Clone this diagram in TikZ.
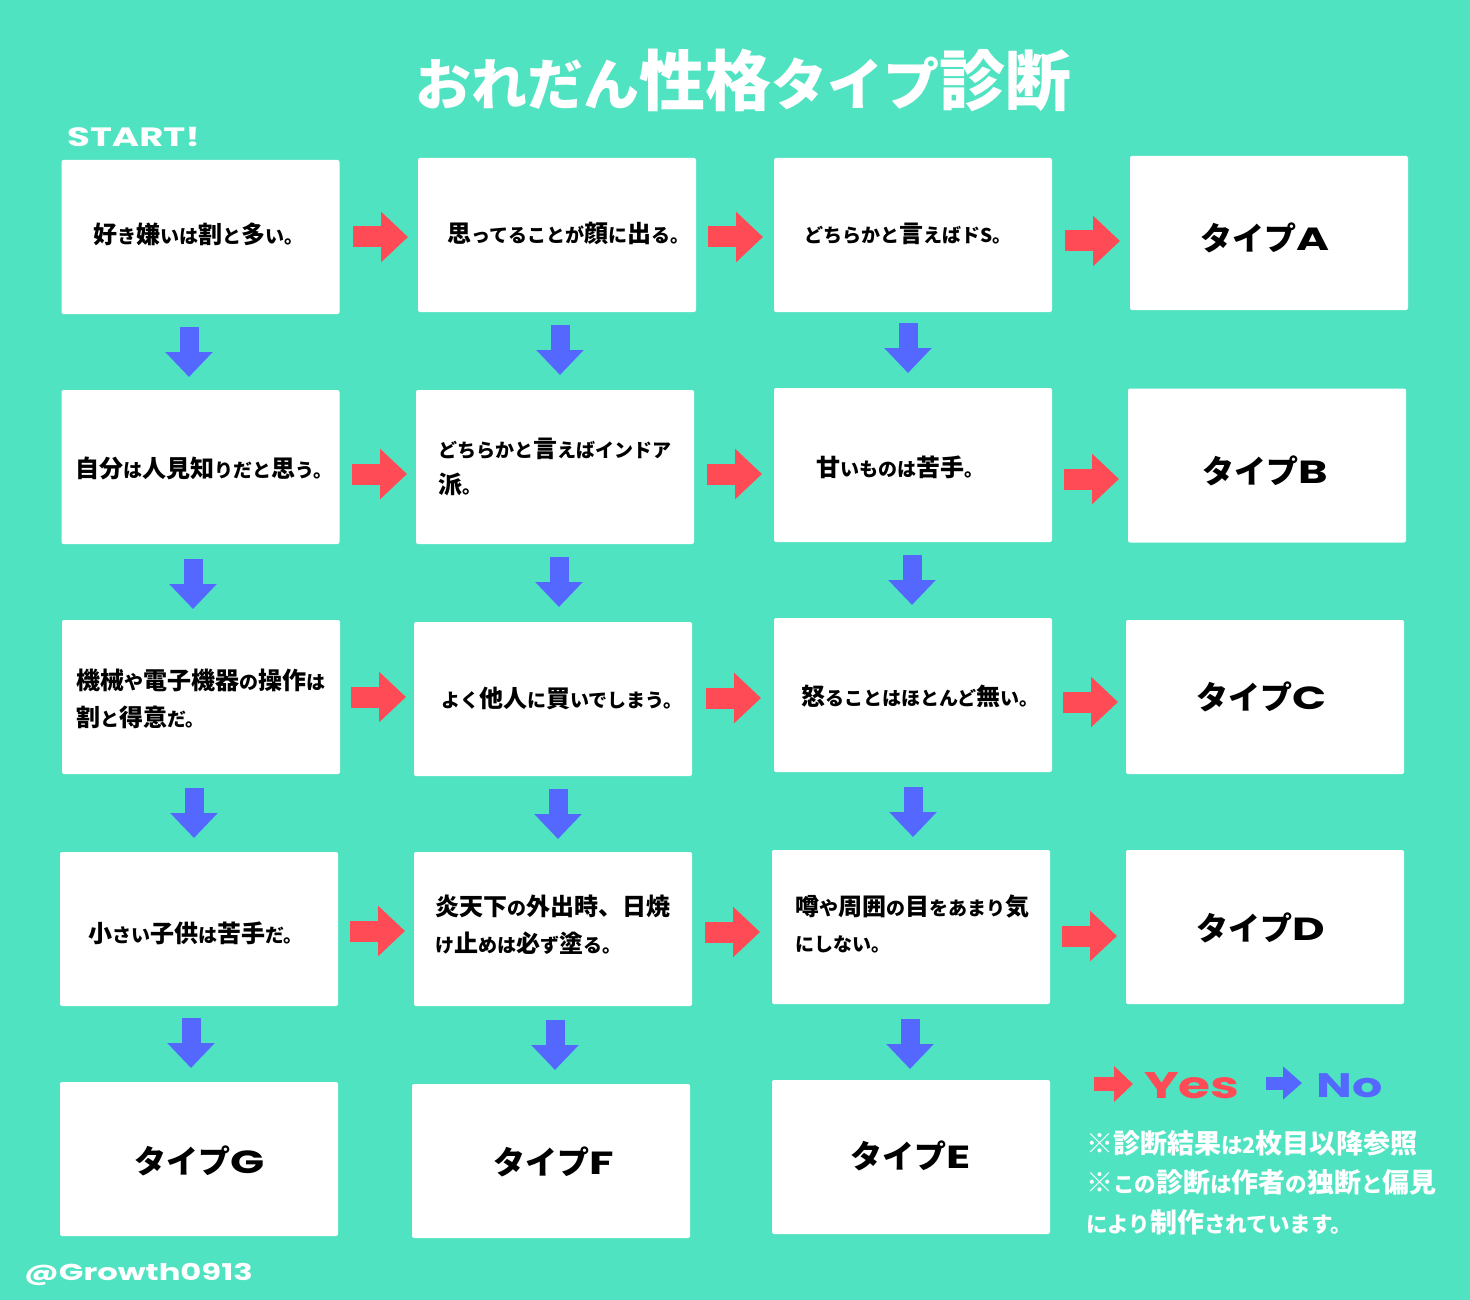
\documentclass[tikz,border=0pt]{standalone}
\usepackage{fontspec}
\usepackage{xcolor}
\usepackage{tikz}
\usetikzlibrary{arrows.meta, positioning}
\setmainfont{Noto Sans CJK JP}
\newfontfamily\techfont{Poppins}[FakeStretch=1.4]
\definecolor{bgmint}{rgb}{0.314,0.890,0.761}
\definecolor{yesred}{rgb}{1.0,0.294,0.333}
\definecolor{noblue}{rgb}{0.329,0.408,1.0}
\newcommand{\kn}[2][19]{{\fontsize{#1}{#1}\selectfont #2}}

\begin{document}
\begin{tikzpicture}[x=1pt, y=-1pt,
    node distance=76pt,
    box/.style={rectangle, rounded corners=2pt, fill=white, minimum width=278pt, minimum height=154pt, inner sep=0pt, outer sep=0pt},
    qlabel/.style={inner sep=0pt, align=left, font=\bfseries\fontsize{24}{36.5}\selectfont},
    typelabel/.style={inner sep=0pt, font=\bfseries\fontsize{32}{36}\selectfont},
    note/.style={inner sep=0pt, text=white, align=left, font=\bfseries\fontsize{27}{39.5}\selectfont},
    yesarrow/.style={-{Triangle[width=49pt,length=27pt]}, yesred, line width=21pt},
    noarrow/.style={-{Triangle[width=46pt,length=25pt]}, noblue, line width=19pt},
    yeskey/.style={-{Triangle[width=35pt,length=19pt]}, yesred, line width=14pt},
    nokey/.style={-{Triangle[width=32pt,length=19pt]}, noblue, line width=13pt}
]

\fill[bgmint] (0,0) rectangle (1470,1300);

% title and start mark
\node[inner sep=0pt, text=white, font=\bfseries\fontsize{66}{70}\selectfont] (title) at (743,80) {\kn[56]{おれだん}性格\kn[56]{タイプ}診断};
\node[inner sep=0pt, anchor=west, text=white, font=\techfont\bfseries\fontsize{26.5}{28}\selectfont] (start) at (67,137) {START!};

% row 1
\node[box] (q11) at (200.5,237) {};
\node[box, right=78.5pt of q11, yshift=2pt] (q12) {};
\node[box, right=78pt of q12] (q13) {};
\node[box, right=78pt of q13, yshift=2pt] (typea) {};

% row 2
\node[box, below=76pt of q11] (q21) {};
\node[box, right=76.5pt of q21] (q22) {};
\node[box, right=80pt of q22, yshift=2pt] (q23) {};
\node[box, right=76pt of q23, yshift=-0.5pt] (typeb) {};

% row 3
\node[box, below=76pt of q21, xshift=0.5pt] (q31) {};
\node[box, right=74pt of q31, yshift=-2pt] (q32) {};
\node[box, right=82pt of q32, yshift=4pt] (q33) {};
\node[box, right=74pt of q33, yshift=-2pt] (typec) {};

% row 4
\node[box, below=78pt of q31, xshift=-2pt] (q41) {};
\node[box, right=76pt of q41] (q42) {};
\node[box, right=80pt of q42, yshift=2pt] (q43) {};
\node[box, right=76pt of q43] (typed) {};

% row 5
\node[box, below=76pt of q41] (typeg) {};
\node[box, right=74pt of typeg, yshift=-2pt] (typef) {};
\node[box, right=82pt of typef, yshift=4pt] (typee) {};

% questions
\node[qlabel, right=32pt of q11.west, yshift=3pt] (t11) {好\kn{き}嫌\kn{いは}割\kn{と}多\kn{い。}};
\node[qlabel, right=29pt of q12.west, yshift=2pt] (t12) {思\kn{ってることが}顔\kn{に}出\kn{る。}};
\node[qlabel, right=30pt of q13.west, yshift=1pt] (t13) {\kn{どちらかと}言\kn{えばドS。}};
\node[qlabel, right=14pt of q21.west, yshift=-1pt] (t21) {自分\kn{は}人見知\kn{りだと}思\kn{う。}};
\node[qlabel, right=22pt of q22.west] (t22) {\kn{どちらかと}言\kn{えばインドア}\\派\kn{。}};
\node[qlabel, right=42pt of q23.west, yshift=-2pt] (t23) {甘\kn{いものは}苦手\kn{。}};
\node[qlabel, right=14pt of q31.west, yshift=-2pt] (t31) {機械\kn{や}電子機器\kn{の}操作\kn{は}\\割\kn{と}得意\kn{だ。}};
\node[qlabel, right=27pt of q32.west, yshift=1pt] (t32) {\kn{よく}他人\kn{に}買\kn{いでしまう。}};
\node[qlabel, right=27pt of q33.west, yshift=-1pt] (t33) {怒\kn{ることはほとんど}無\kn{い。}};
\node[qlabel, right=28pt of q41.west, yshift=-4pt] (t41) {小\kn{さい}子供\kn{は}苦手\kn{だ。}};
\node[qlabel, right=21pt of q42.west, yshift=4.5pt] (t42) {炎天下\kn{の}外出時、日焼\\\kn{け}止\kn{めは}必\kn{ず}塗\kn{る。}};
\node[qlabel, right=23pt of q43.west, yshift=3pt] (t43) {噂\kn{や}周囲\kn{の}目\kn{をあまり}気\\\kn{にしない。}};

% result labels
\node[typelabel, xshift=-4pt, yshift=-5pt] (ta) at (typea) {タイプ{\techfont A}};
\node[typelabel, xshift=-2pt, yshift=-5.5pt] (tb) at (typeb) {タイプ{\techfont B}};
\node[typelabel, xshift=-3.5pt] (tc) at (typec) {タイプ{\techfont C}};
\node[typelabel, xshift=-4pt, yshift=-1pt] (td) at (typed) {タイプ{\techfont D}};
\node[typelabel, yshift=1pt] (te) at (typee) {タイプ{\techfont E}};
\node[typelabel, xshift=2.5pt, yshift=-1pt] (tf) at (typef) {タイプ{\techfont F}};
\node[typelabel, xshift=1pt, yshift=-2pt] (tg) at (typeg) {タイプ{\techfont G}};

% yes arrows
\draw[yesarrow] ([xshift=13.5pt]q11.east) -- ([xshift=-10pt,yshift=-2pt]q12.west);
\draw[yesarrow] ([xshift=12pt,yshift=-2pt]q12.east) -- ([xshift=-11pt,yshift=-2pt]q13.west);
\draw[yesarrow] ([xshift=13pt,yshift=-6pt]q13.east) -- ([xshift=-10pt,yshift=-8pt]typea.west);
\draw[yesarrow] ([xshift=12.5pt,yshift=-7pt]q21.east) -- ([xshift=-9pt,yshift=-7pt]q22.west);
\draw[yesarrow] ([xshift=13pt,yshift=-7pt]q22.east) -- ([xshift=-12pt,yshift=-9pt]q23.west);
\draw[yesarrow] ([xshift=12pt,yshift=-14pt]q23.east) -- ([xshift=-9pt,yshift=-13.5pt]typeb.west);
\draw[yesarrow] ([xshift=11pt]q31.east) -- ([xshift=-8pt,yshift=2pt]q32.west);
\draw[yesarrow] ([xshift=14pt,yshift=1pt]q32.east) -- ([xshift=-13pt,yshift=-3pt]q33.west);
\draw[yesarrow] ([xshift=11pt,yshift=-7pt]q33.east) -- ([xshift=-8pt,yshift=-5pt]typec.west);
\draw[yesarrow] ([xshift=12pt,yshift=-2pt]q41.east) -- ([xshift=-9pt,yshift=-2pt]q42.west);
\draw[yesarrow] ([xshift=13pt,yshift=-3pt]q42.east) -- ([xshift=-12pt,yshift=-5pt]q43.west);
\draw[yesarrow] ([xshift=12pt,yshift=-9pt]q43.east) -- ([xshift=-9pt,yshift=-9pt]typed.west);

% no arrows
\draw[noarrow] ([xshift=-11.5pt,yshift=-13pt]q11.south) -- ([xshift=-11.5pt,yshift=13pt]q21.north);
\draw[noarrow] ([xshift=-7.5pt,yshift=-15pt]q21.south) -- ([xshift=-8pt,yshift=11pt]q31.north);
\draw[noarrow] ([xshift=-7pt,yshift=-14pt]q31.south) -- ([xshift=-5pt,yshift=14pt]q41.north);
\draw[noarrow] ([xshift=-8pt,yshift=-12pt]q41.south) -- ([xshift=-8pt,yshift=14pt]typeg.north);
\draw[noarrow] ([xshift=3pt,yshift=-13pt]q12.south) -- ([xshift=5pt,yshift=15pt]q22.north);
\draw[noarrow] ([xshift=4pt,yshift=-13pt]q22.south) -- ([xshift=6pt,yshift=15pt]q32.north);
\draw[noarrow] ([xshift=5pt,yshift=-13pt]q32.south) -- ([xshift=5pt,yshift=13pt]q42.north);
\draw[noarrow] ([xshift=2pt,yshift=-14pt]q42.south) -- ([xshift=4pt,yshift=14pt]typef.north);
\draw[noarrow] ([xshift=-5pt,yshift=-11pt]q13.south) -- ([xshift=-5pt,yshift=15pt]q23.north);
\draw[noarrow] ([xshift=-1pt,yshift=-13pt]q23.south) -- ([xshift=-1pt,yshift=13pt]q33.north);
\draw[noarrow] ([yshift=-15pt]q33.south) -- ([xshift=2pt,yshift=13pt]q43.north);
\draw[noarrow] ([xshift=-1pt,yshift=-15pt]q43.south) -- ([xshift=-1pt,yshift=11pt]typee.north);

% legend
\coordinate (yesfrom) at (1094,1084);
\coordinate (yesto) at (1133,1084);
\coordinate (nofrom) at (1266,1083);
\coordinate (noto) at (1302,1083);
\draw[yeskey] (yesfrom) -- (yesto);
\draw[nokey] (nofrom) -- (noto);
\node[inner sep=0pt, right=11pt of yesto, yshift=-2pt, text=yesred, font=\techfont\bfseries\fontsize{37}{38}\selectfont] (yeslabel) {Yes};
\node[inner sep=0pt, right=14pt of noto, yshift=-3pt, text=noblue, font=\techfont\bfseries\fontsize{34}{38}\selectfont] (nolabel) {No};

\node[note, anchor=north west] (notes) at (1086,1130) {※診断結果\kn[21.5]{は2}枚目以降参照\\※\kn[21.5]{この}診断\kn[21.5]{は}作者\kn[21.5]{の}独断\kn[21.5]{と}偏見\\\kn[21.5]{により}制作\kn[21.5]{されています。}};

\node[inner sep=0pt, anchor=west, text=white, font=\techfont\bfseries\fontsize{23}{26}\selectfont] (handle) at (24,1274) {@Growth0913};

\end{tikzpicture}
\end{document}
